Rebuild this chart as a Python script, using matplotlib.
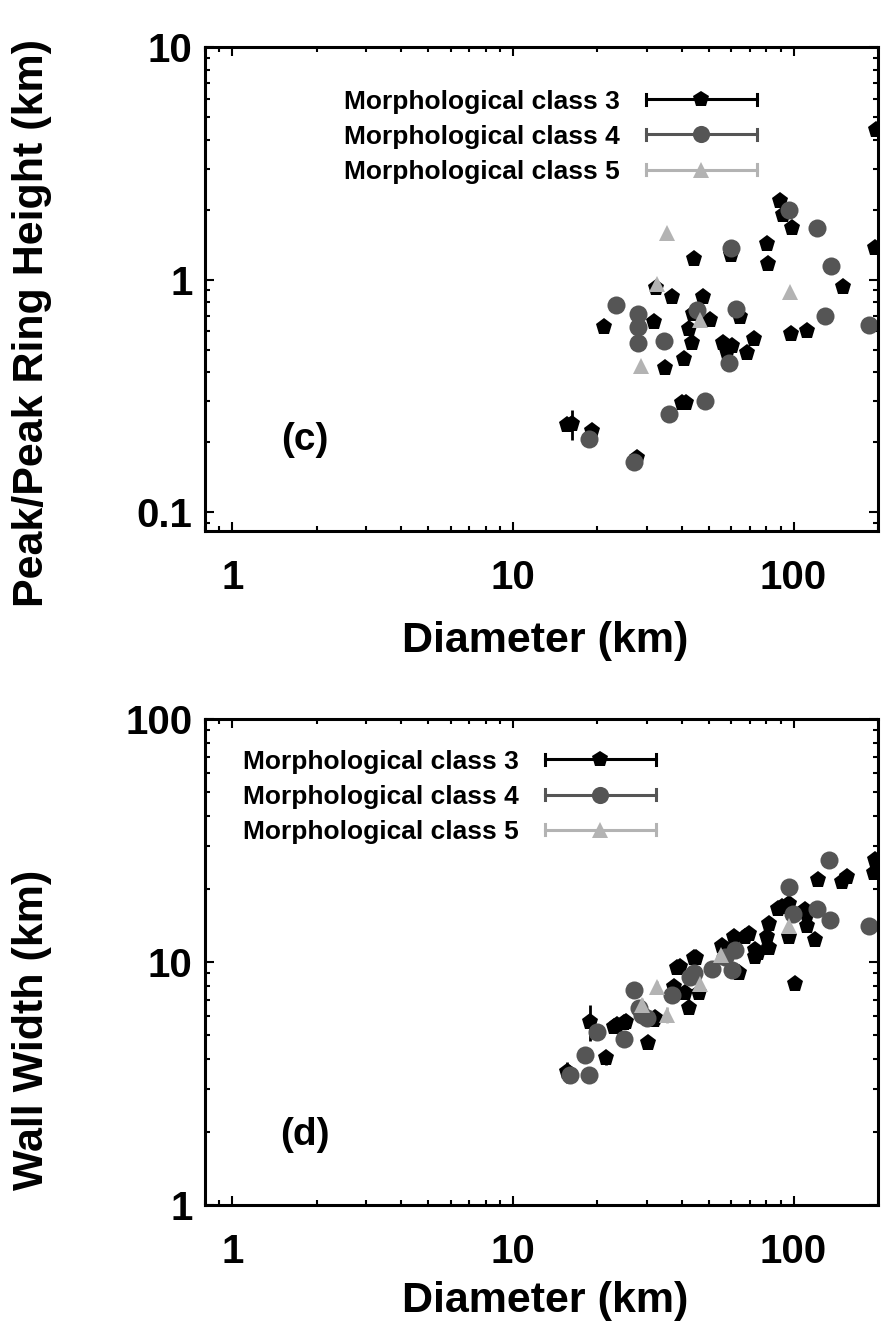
import matplotlib
matplotlib.use("Agg")
import matplotlib.pyplot as plt
from matplotlib.lines import Line2D
from matplotlib.legend_handler import HandlerBase

# ---------------- data ----------------
# (c) peak / peak-ring height vs crater diameter
c3_diam = [89.7, 92, 99, 80.6, 81, 44.3, 59.8, 195, 197, 150.6, 36.9, 32.4, 47.5, 21.2, 31.8,
           42.3, 50.5, 43.7, 64.6, 43.5, 56.3, 60.3, 72.6, 57.9, 68.2, 97.9, 112, 40.6, 34.9,
           40.1, 41.5, 16.3, 15.6, 19.2, 27.7]
c3_height = [2.18, 1.9, 1.66, 1.42, 1.17, 1.23, 1.28, 1.37, 4.4, 0.93, 0.84, 0.917, 0.84, 0.626,
             0.658, 0.616, 0.669, 0.715, 0.69, 0.535, 0.535, 0.518, 0.557, 0.488, 0.485, 0.586,
             0.601, 0.457, 0.416, 0.296, 0.296, 0.239, 0.237, 0.224, 0.171]
c3_height_err = [0.05, 0.05, 0.04, 0.04, 0.03, 0.03, 0.03, 0.04, 0.1, 0.02, 0.02, 0.03, 0.02,
                 0.015, 0.02, 0.015, 0.02, 0.02, 0.02, 0.015, 0.015, 0.015, 0.015, 0.015, 0.015,
                 0.015, 0.015, 0.012, 0.012, 0.008, 0.008, 0.035, 0.01, 0.008, 0.006]

c4_diam = [96.6, 121, 59.8, 136, 23.4, 27.9, 27.9, 27.9, 34.5, 45.3, 62.5, 130, 186, 59, 48.5,
           35.9, 18.6, 27]
c4_height = [2.0, 1.66, 1.37, 1.14, 0.782, 0.71, 0.626, 0.535, 0.544, 0.74, 0.747, 0.696, 0.637,
             0.438, 0.302, 0.264, 0.207, 0.164]
c4_height_err = [0.05, 0.04, 0.04, 0.03, 0.02, 0.02, 0.015, 0.015, 0.015, 0.02, 0.02, 0.02,
                 0.015, 0.012, 0.008, 0.008, 0.008, 0.005]

c5_diam = [35.4, 32.6, 96.8, 46.5, 28.7]
c5_height = [1.59, 0.96, 0.887, 0.669, 0.427]
c5_height_err = [0.04, 0.03, 0.03, 0.02, 0.015]

# (d) wall width vs crater diameter
d3_diam = [195, 193, 155, 149, 122.7, 101.4, 96, 119.5, 111.5, 111.5, 110, 96, 90.9, 88.4, 81.5,
           80.5, 81.5, 75, 73.1, 73.1, 69.2, 67.3, 63.7, 61.2, 55.6, 44.8, 44.1, 39.5, 38.4,
           37.4, 41, 42.3, 45.9, 32.2, 31.8, 30.3, 25.2, 24.8, 23.5, 22.9, 21.4, 18.9, 15.6, 15.8]
d3_width = [26.3, 23.2, 22.4, 21.4, 21.8, 8.12, 12.7, 12.3, 14.0, 15.8, 16.4, 17.4, 16.9, 16.6,
            14.4, 12.7, 11.4, 10.9, 11.2, 10.5, 13.1, 12.7, 8.98, 12.7, 11.6, 10.4, 10.4, 9.56,
            9.43, 7.91, 7.43, 6.45, 7.43, 5.87, 5.77, 4.66, 5.68, 5.59, 5.5, 5.42, 4.02, 5.68,
            3.53, 3.48]
d3_width_err = [0.8, 0.7, 0.7, 0.6, 0.6, 0.3, 0.5, 0.5, 0.5, 0.6, 0.6, 0.6, 0.6, 0.6, 0.5,
                0.5, 0.4, 0.4, 0.4, 0.4, 0.5, 0.5, 0.35, 0.5, 0.5, 0.4, 0.4, 0.4, 0.4, 0.35,
                0.35, 0.3, 0.35, 0.3, 0.3, 0.25, 0.3, 0.3, 0.3, 0.3, 0.25, 0.95, 0.35, 0.2]

d4_diam = [134, 96.5, 99.2, 121, 135, 185, 62, 57, 60.3, 51.2, 44.1, 42.9, 36.9, 27, 28.8, 28.1,
           30.1, 24.8, 19.95, 18.1, 18.6, 16.0]
d4_width = [26.3, 20.4, 15.8, 16.5, 14.9, 14.1, 11.2, 10.5, 9.3, 9.4, 8.98, 8.7, 7.3, 7.67, 6.05,
            6.45, 5.87, 4.8, 5.17, 4.14, 3.43, 3.43]
d4_width_err = [0.8, 0.7, 0.6, 0.6, 0.5, 0.5, 0.4, 0.4, 0.35, 0.35, 0.35, 0.35, 0.3, 0.35, 0.3,
                0.3, 0.3, 0.25, 0.25, 0.25, 0.2, 0.2]

d5_diam = [96.5, 55.1, 46.5, 32.6, 28.8, 35.4]
d5_width = [14.1, 10.7, 8.14, 7.91, 6.64, 6.05]
d5_width_err = [0.5, 0.4, 0.45, 0.45, 0.5, 0.45]

class_labels = ["Morphological class 3", "Morphological class 4", "Morphological class 5"]
x_ticks = [1, 10, 100]
x_ticklabels = ["1", "10", "100"]
c_yticks = [0.1, 1, 10]
c_yticklabels = ["0.1", "1", "10"]
d_yticks = [1, 10, 100]
d_yticklabels = ["1", "10", "100"]

# ---------------- styling ----------------
COLORS = ["#000000", "#555555", "#b3b3b3"]
MARKERS = ["p", "o", "^"]
MSIZES = [12.5, 13, 12]
FONT = ["Liberation Sans", "DejaVu Sans"]


class HandlerCappedBar(HandlerBase):
    """Legend key drawn as a horizontal bar with end caps and a centred marker."""

    def create_artists(self, legend, orig_handle, xdescent, ydescent, width, height,
                       fontsize, trans):
        y = height / 2.0 - ydescent
        x0, x1 = -xdescent, -xdescent + width
        cap = 0.3 * height
        col = orig_handle.get_color()
        lw = orig_handle.get_linewidth()
        arts = [
            Line2D([x0, x1], [y, y], color=col, lw=lw, transform=trans),
            Line2D([x0, x0], [y - cap, y + cap], color=col, lw=lw, transform=trans),
            Line2D([x1, x1], [y - cap, y + cap], color=col, lw=lw, transform=trans),
            Line2D([(x0 + x1) / 2.0], [y], color=col, ls="none",
                   marker=orig_handle.get_marker(), markersize=orig_handle.get_markersize(),
                   markeredgewidth=0, transform=trans),
        ]
        return arts


def style_axes(ax, yticks, yticklabels, ylim):
    ax.set_xscale("log")
    ax.set_yscale("log")
    ax.set_xlim(0.8, 200)
    ax.set_ylim(*ylim)
    ax.set_xticks(x_ticks)
    ax.set_xticklabels(x_ticklabels)
    ax.set_yticks(yticks)
    ax.set_yticklabels(yticklabels)
    for sp in ax.spines.values():
        sp.set_linewidth(2.2)
    ax.tick_params(which="both", direction="in", top=True, right=True, width=1.5)
    ax.tick_params(which="major", length=6.5)
    ax.tick_params(which="minor", length=3.3)
    ax.tick_params(axis="x", which="major", pad=20)
    ax.tick_params(axis="y", which="major", pad=9)
    for lab in ax.get_xticklabels() + ax.get_yticklabels():
        lab.set_fontfamily(FONT)
        lab.set_fontweight("bold")
        lab.set_fontsize(29)


def draw_series(ax, series):
    for (xs, ys, es), col, mk, ms in zip(series, COLORS, MARKERS, MSIZES):
        ax.errorbar(xs, ys, yerr=es, fmt=mk, color=col, ecolor=col, elinewidth=2,
                    capsize=5, capthick=2, markersize=ms, markeredgewidth=0)


def add_legend(ax, center):
    handles = [Line2D([], [], color=c, lw=2.2, marker=m, markersize=s * 0.95)
               for c, m, s in zip(COLORS, MARKERS, MSIZES)]
    leg = ax.legend(handles, class_labels, loc="center", bbox_to_anchor=center,
                    frameon=False, markerfirst=False, handlelength=4.2,
                    handletextpad=1.0, labelspacing=0.42, borderaxespad=0,
                    handler_map={Line2D: HandlerCappedBar()},
                    prop={"family": FONT, "weight": "bold", "size": 19})
    return leg


fig = plt.figure(figsize=(8.81, 13.35), dpi=100)
ax_c = fig.add_axes([0.2327, 0.6022, 0.7639, 0.3625])
ax_d = fig.add_axes([0.2327, 0.0974, 0.7639, 0.3640])

# panel (c)
draw_series(ax_c, [(c3_diam, c3_height, c3_height_err),
                   (c4_diam, c4_height, c4_height_err),
                   (c5_diam, c5_height, c5_height_err)])
style_axes(ax_c, c_yticks, c_yticklabels, (0.083, 10))
add_legend(ax_c, (0.513, 0.815))
ax_c.text(0.149, 0.188, "(c)", transform=ax_c.transAxes, ha="center", va="center",
          fontsize=28, fontweight="bold", family=FONT)
ax_c.set_xlabel("Diameter (km)", fontsize=31, fontweight="bold", family=FONT)
ax_c.set_ylabel("Peak/Peak Ring Height (km)", fontsize=31, fontweight="bold", family=FONT)
ax_c.xaxis.set_label_coords(0.505, -0.228)
ax_c.xaxis.label.set_verticalalignment("center")
ax_c.yaxis.set_label_coords(-0.257, 0.43)
ax_c.yaxis.label.set_verticalalignment("center")

# panel (d)
draw_series(ax_d, [(d3_diam, d3_width, d3_width_err),
                   (d4_diam, d4_width, d4_width_err),
                   (d5_diam, d5_width, d5_width_err)])
style_axes(ax_d, d_yticks, d_yticklabels, (1, 100))
add_legend(ax_d, (0.363, 0.840))
ax_d.text(0.149, 0.144, "(d)", transform=ax_d.transAxes, ha="center", va="center",
          fontsize=28, fontweight="bold", family=FONT)
ax_d.set_xlabel("Diameter (km)", fontsize=31, fontweight="bold", family=FONT)
ax_d.set_ylabel("Wall Width (km)", fontsize=31, fontweight="bold", family=FONT)
ax_d.xaxis.set_label_coords(0.505, -0.197)
ax_d.xaxis.label.set_verticalalignment("center")
ax_d.yaxis.set_label_coords(-0.257, 0.36)
ax_d.yaxis.label.set_verticalalignment("center")

fig.savefig("out.png", dpi=100)
